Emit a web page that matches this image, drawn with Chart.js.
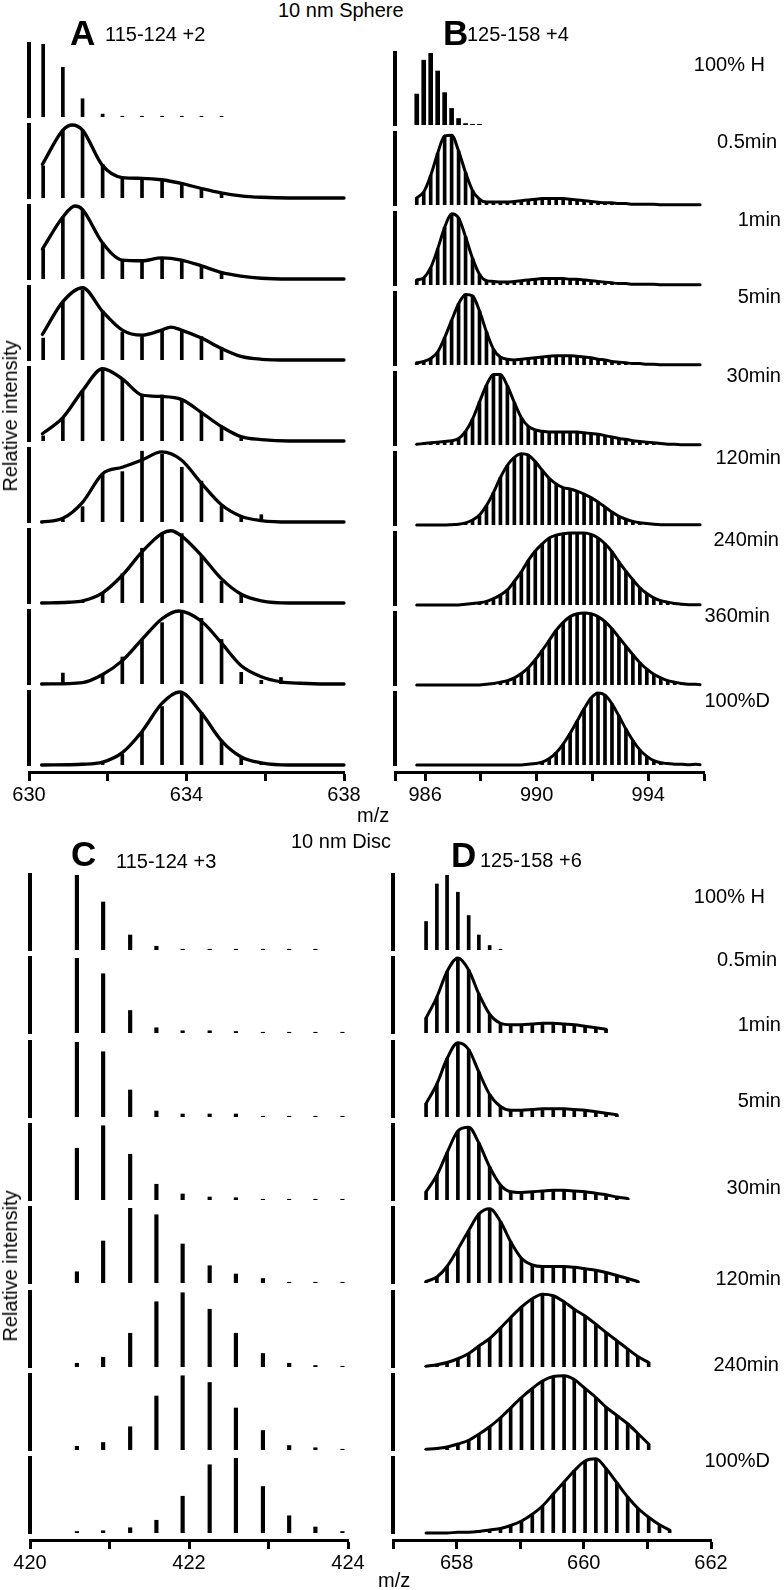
<!DOCTYPE html>
<html>
<head>
<meta charset="utf-8">
<script src="https://cdn.jsdelivr.net/npm/chart.js@4.4.1/dist/chart.umd.min.js"></script>
<style>
  body { margin: 0; width: 784px; height: 1590px; background: #fff; position: relative; overflow: hidden;
         font-family: "Liberation Sans", Arial, Helvetica, sans-serif; color: #000; }
  canvas { position: absolute; }
  .t { position: absolute; white-space: nowrap; line-height: 1; }
  .rot { position: absolute; white-space: nowrap; line-height: 1; transform: translate(-50%, -50%) rotate(-90deg); }
</style>
</head>
<body>
<script>
// ---- data: panel A (115-124 +2, 10 nm sphere) ----
const aMz = [630.36, 630.86, 631.36, 631.87, 632.37, 632.87, 633.38, 633.88, 634.38, 634.89, 635.39, 635.9, 636.4];
const aSticks = [
  [100, 68, 25, 4, 1, 1, 1, 1, 1, 1, 0, 0, 0],
  [44, 93, 93, 46, 26, 26, 25, 19, 12, 6, 0, 0, 0],
  [41, 85, 95, 50, 26, 24, 29, 26, 18, 9, 0, 0, 0],
  [30, 80, 96, 67, 38, 32, 41, 41, 32, 17, 0, 0, 0],
  [7, 31, 69, 97, 85, 63, 63, 57, 39, 20, 4, 0, 0],
  [0, 5, 21, 66, 69, 97, 93, 75, 56, 22, 7, 10, 0],
  [0, 0, 3, 14, 40, 75, 95, 95, 65, 30, 11, 0, 0],
  [0, 15, 0, 12, 37, 61, 84, 100, 90, 61, 16, 5, 9],
  [0, 0, 0, 3, 15, 46, 80, 100, 72, 34, 11, 2, 0]
];
const aFits = [
  null,
  [[630.34, 46], [630.86, 93], [631.1, 100], [631.36, 93], [631.86, 45], [632.37, 28], [632.87, 27], [633.37, 25], [633.87, 20], [634.38, 13], [634.88, 7], [635.38, 3], [635.9, 1], [636.6, 0], [638, 0]],
  [[630.34, 41], [630.86, 85], [631.17, 100], [631.36, 95], [631.86, 50], [632.37, 26], [632.87, 25], [633.37, 29], [633.87, 26], [634.38, 18], [634.88, 9], [635.38, 4], [635.9, 1], [636.6, 0], [638, 0]],
  [[630.34, 35], [630.86, 80], [631.36, 99], [631.86, 67], [632.37, 41], [632.87, 34], [633.37, 41], [633.6, 45], [633.87, 41], [634.38, 30], [634.88, 16], [635.38, 5], [635.9, 1], [636.6, 0], [638, 0]],
  [[630.34, 10], [630.86, 32], [631.36, 69], [631.87, 99], [632.37, 85], [632.87, 63], [633.37, 61], [633.87, 57], [634.38, 39], [634.88, 20], [635.38, 6], [635.9, 2], [636.6, 0], [638, 0]],
  [[630.32, 0], [630.86, 5], [631.36, 27], [631.87, 66], [632.37, 75], [632.87, 85], [633.37, 96], [633.87, 85], [634.38, 53], [634.88, 24], [635.38, 8], [635.9, 2], [636.6, 0], [638, 0]],
  [[630.32, 0], [631.0, 1], [631.36, 3], [631.87, 14], [632.37, 38], [632.87, 70], [633.37, 95], [633.6, 99], [633.87, 92], [634.38, 65], [634.89, 33], [635.39, 12], [635.9, 3], [636.6, 0], [638, 0]],
  [[630.32, 0], [631.36, 2], [631.87, 13], [632.37, 32], [632.87, 61], [633.37, 89], [633.8, 100], [634.38, 86], [634.89, 56], [635.39, 25], [635.9, 10], [636.4, 3], [636.9, 1], [637.5, 0], [638, 0]],
  [[630.32, 0], [631.36, 1], [631.87, 4], [632.37, 17], [632.87, 46], [633.37, 84], [633.82, 100], [634.38, 71], [634.89, 33], [635.39, 11], [635.9, 3], [636.6, 0], [638, 0]]
];

// ---- data: panel B (125-158 +4, 10 nm sphere) ----
const bMz = [985.70, 985.95, 986.20, 986.45, 986.70, 986.95, 987.20, 987.45, 987.70, 987.95,
             988.20, 988.45, 988.70, 988.95, 989.20, 989.45, 989.70, 989.95, 990.20, 990.45,
             990.70, 990.95, 991.20, 991.45, 991.70, 991.95, 992.20, 992.45, 992.70, 992.95,
             993.20, 993.45, 993.70, 993.95, 994.20, 994.45, 994.70, 994.95, 995.20, 995.45, 995.70];
const bEnd = 995.86;
const bRows = [
  [43, 90, 100, 75, 45, 23, 9, 2, 1, 1, 0, 0, 0, 0, 0, 0, 0, 0, 0, 0, 0, 0, 0, 0, 0, 0, 0, 0, 0, 0, 0, 0, 0, 0, 0, 0, 0, 0, 0, 0, 0],
  [10, 18, 41, 72, 96, 97, 75, 45, 20, 8, 4, 4, 4, 4, 5, 6, 7, 8, 9, 9, 9, 9, 8, 7, 6, 5, 4, 3, 3, 2, 2, 1, 1, 1, 1, 0.5, 0.5, 0.5, 0.5, 0.5, 0.5],
  [7, 10, 24, 50, 80, 99, 93, 67, 37, 15, 6, 5, 4, 4, 5, 6, 7, 8, 9, 9, 9, 9, 8, 8, 7, 6, 5, 4, 3, 2, 2, 1, 1, 1, 1, 0.5, 0.5, 0.5, 0.5, 0.5, 0.5],
  [3, 5, 9, 18, 38, 62, 85, 98, 96, 75, 46, 22, 11, 8, 7, 8, 9, 10, 11, 12, 13, 13, 13, 12, 11, 10, 8, 7, 5, 4, 3, 2, 2, 1, 1, 0.5, 0.5, 0.5, 0.5, 0.5, 0.5],
  [1, 2, 3, 4, 5, 6, 9, 19, 36, 60, 83, 98, 98, 82, 59, 38, 26, 21, 19, 18, 18, 18, 18, 18, 17, 16, 15, 13, 11, 9, 8, 6, 5, 4, 3, 2, 1, 1, 0.5, 0.5, 0.5],
  [0, 0, 0, 0, 0, 0.5, 1, 3, 7, 14, 27, 45, 66, 83, 94, 99, 97, 88, 76, 65, 57, 52, 50, 47, 43, 38, 32, 25, 18, 12, 8, 5, 3, 2, 1, 0.5, 0.5, 0.5, 0.5, 0.5, 0.5],
  [0, 0, 0, 0, 0, 0, 0, 1, 2, 3, 5, 9, 14, 21, 33, 46, 62, 75, 85, 93, 97, 99, 100, 100, 100, 98, 93, 85, 74, 60, 47, 35, 24, 16, 10, 6, 4, 2, 1, 0.5, 0.5],
  [0, 0, 0, 0, 0, 0, 0, 0, 0, 0, 1, 2, 4, 6, 10, 16, 24, 35, 48, 62, 76, 87, 95, 99, 100, 99, 95, 88, 78, 66, 54, 42, 31, 22, 15, 10, 6, 4, 2, 1, 1],
  [0, 0, 0, 0, 0, 0, 0, 0, 0, 0, 0, 0, 0, 0, 0, 0, 1, 2, 4, 9, 17, 29, 44, 61, 78, 93, 100, 97, 85, 68, 50, 34, 21, 12, 6, 3, 2, 1, 1, 0.5, 1]
];

// ---- data: panel C (115-124 +3, 10 nm disc) ----
const cMz = [420.59, 420.92, 421.26, 421.59, 421.92, 422.26, 422.59, 422.93, 423.26, 423.59, 423.93];
const cRows = [
  [100, 64, 20, 5, 1, 1, 1, 1, 1, 1, 0],
  [100, 79, 30, 7, 3, 3, 2, 1, 1, 1, 1],
  [100, 87, 36, 8, 4, 4, 4, 1, 1, 1, 1],
  [69, 99, 61, 21, 8, 4, 3, 1, 1, 1, 1],
  [15, 56, 100, 91, 52, 23, 12, 6, 1, 1, 1],
  [5, 13, 45, 87, 99, 77, 45, 18, 5, 2, 1],
  [5, 10, 31, 72, 99, 90, 56, 26, 6, 3, 1],
  [2, 3, 7, 17, 49, 91, 100, 62, 23, 8, 2]
];

// ---- data: panel D (125-158 +6, 10 nm disc) ----
const dMz = [657.52, 657.69, 657.85, 658.02, 658.19, 658.35, 658.52, 658.69, 658.85, 659.02, 659.19, 659.35,
             659.52, 659.69, 659.85, 660.02, 660.19, 660.35, 660.52, 660.69, 660.85, 661.02, 661.19, 661.35];
const dRows = [
  [38, 88, 100, 77, 46, 20, 6, 1],
  [20, 48, 82, 100, 84, 52, 25, 13, 11, 11, 12, 13, 13, 12, 11, 9, 7, 5],
  [18, 44, 78, 99, 90, 60, 30, 14, 9, 9, 10, 11, 11, 11, 10, 9, 7, 5, 3],
  [11, 33, 63, 92, 97, 76, 44, 20, 11, 10, 11, 12, 13, 13, 12, 11, 9, 7, 4, 2],
  [2, 8, 22, 45, 70, 92, 99, 82, 55, 33, 24, 22, 22, 22, 21, 19, 17, 14, 10, 6, 2],
  [1, 3, 6, 11, 18, 28, 38, 52, 66, 80, 91, 97, 95, 87, 77, 68, 57, 46, 35, 24, 14, 6],
  [1, 2, 4, 8, 13, 21, 31, 43, 56, 70, 82, 92, 98, 99, 94, 82, 70, 57, 46, 35, 22, 8],
  [0, 0, 0, 1, 1, 2, 4, 6, 10, 16, 25, 36, 52, 68, 83, 96, 99, 86, 67, 48, 33, 21, 11, 4]
];

// row labels and axis ticks
const sphereLabels = ['100% H', '0.5min', '1min', '5min', '30min', '120min', '240min', '360min', '100%D'];
const discLabels = ['100% H', '0.5min', '1min', '5min', '30min', '120min', '240min', '100%D'];
const aTicks = [630, 632, 634, 636, 638];
const bTicks = [984.92, 986, 988, 990, 992, 994, 996];
const cTicks = [420, 421, 422, 423, 424];
const dTicks = [657, 658, 659, 660, 661, 662];
const aTickLabels = [630, 634, 638];
const bTickLabels = [986, 990, 994];
const cTickLabels = [420, 422, 424];
const dTickLabels = [658, 660, 662];

// ---- layout (pixels) ----
const FONT = '"Liberation Sans", Arial, Helvetica, sans-serif';
const PAD_L = 24, PAD_R = 24, PAD_T = 4, PAD_B = 3;

const panels = {
  A: { xMin: 630, xMax: 638, left: 29, right: 344, base0: 117, pitch: 81, rowH: 73, axisY: 772, tickVals: aTicks, ticks: aTickLabels, barW: 3, lineW: 3.3 },
  B: { xMin: 984.92, xMax: 996, left: 395, right: 704, base0: 125, pitch: 80, rowH: 72, axisY: 772, tickVals: bTicks, ticks: bTickLabels, barW: 3, firstBarW: 4, lineW: 3 },
  C: { xMin: 420, xMax: 424, left: 30, right: 348, base0: 950, pitch: 83.3, rowH: 75, axisY: 1540, tickVals: cTicks, ticks: cTickLabels, barW: 3.5, lineW: 3 },
  D: { xMin: 657, xMax: 662, left: 393, right: 711, base0: 950, pitch: 83.3, rowH: 75, axisY: 1540, tickVals: dTicks, ticks: dTickLabels, barW: 3, lineW: 3 }
};

function makeCanvas(x, y, w, h) {
  const cv = document.createElement('canvas');
  cv.width = w; cv.height = h;
  cv.style.left = x + 'px'; cv.style.top = y + 'px';
  document.body.appendChild(cv);
  return cv;
}

function rowChart(p, idx, mz, vals, fit) {
  const base = Math.round(p.base0 + idx * p.pitch);
  const top = base - p.rowH;
  const w = p.right - p.left + PAD_L + PAD_R;
  const cv = makeCanvas(p.left - PAD_L, top - PAD_T, w, p.rowH + PAD_T + PAD_B);
  const sticks = mz.map((x, i) => ({ x, y: vals[i] || 0 })).filter(d => d.y > 0);
  const datasets = [{
    type: 'bar', data: sticks, backgroundColor: '#000', borderWidth: 0,
    barThickness: (idx === 0 && p.firstBarW) ? p.firstBarW : p.barW, order: 2
  }];
  if (fit) {
    datasets.push({
      type: 'line', data: fit, borderColor: '#000', borderWidth: p.lineW, pointRadius: 0,
      cubicInterpolationMode: 'monotone', borderJoinStyle: 'round', borderCapStyle: 'round', clip: false, order: 1
    });
  }
  new Chart(cv, {
    type: 'bar',
    data: { datasets },
    options: {
      responsive: false, animation: false, events: [],
      layout: { padding: { left: PAD_L, right: PAD_R, top: PAD_T, bottom: PAD_B } },
      plugins: { legend: { display: false }, tooltip: { enabled: false } },
      scales: {
        x: { type: 'linear', min: p.xMin, max: p.xMax, offset: false, display: false },
        y: {
          min: 0, max: 100,
          ticks: { display: false }, grid: { display: false },
          border: { display: true, color: '#000', width: 4 },
          afterFit: s => { s.width = 0; }
        }
      }
    }
  });
}

function axisChart(p) {
  const w = p.right - p.left + PAD_L + PAD_R;
  const cv = makeCanvas(p.left - PAD_L, p.axisY - 4, w, 44);
  new Chart(cv, {
    type: 'scatter',
    data: { datasets: [] },
    options: {
      responsive: false, animation: false, events: [],
      layout: { padding: { left: PAD_L, right: PAD_R, top: 2, bottom: 0 } },
      plugins: { legend: { display: false }, tooltip: { enabled: false } },
      scales: {
        x: {
          type: 'linear', min: p.xMin, max: p.xMax,
          afterFit: s => { s.height = 40; },
          afterBuildTicks: s => { s.ticks = p.tickVals.map(v => ({ value: v })); },
          border: { display: true, color: '#000', width: 3 },
          grid: { display: true, drawOnChartArea: false, drawTicks: true, tickLength: 9, tickWidth: 3, tickColor: '#000', color: '#000' },
          ticks: {
            autoSkip: false, maxRotation: 0, padding: 2, color: '#000',
            font: { family: FONT, size: 20 },
            callback: v => p.ticks.some(l => Math.abs(l - v) < 1e-6) ? String(v) : ''
          }
        },
        y: { display: false }
      }
    }
  });
}

function addText(str, left, baseline, size, bold) {
  const d = document.createElement('div');
  d.className = 't';
  d.textContent = str;
  d.style.left = left + 'px';
  d.style.top = (baseline - 0.8465 * size) + 'px';
  d.style.fontSize = size + 'px';
  if (bold) d.style.fontWeight = 'bold';
  document.body.appendChild(d);
}

function addTextRight(str, right, baseline, size) {
  const d = document.createElement('div');
  d.className = 't';
  d.textContent = str;
  d.style.right = (784 - right) + 'px';
  d.style.top = (baseline - 0.8465 * size) + 'px';
  d.style.fontSize = size + 'px';
  document.body.appendChild(d);
}

function addRotated(str, cx, cy, size) {
  const d = document.createElement('div');
  d.className = 'rot';
  d.textContent = str;
  d.style.left = cx + 'px';
  d.style.top = cy + 'px';
  d.style.fontSize = size + 'px';
  document.body.appendChild(d);
}

// ---- draw panels ----
aSticks.forEach((v, i) => rowChart(panels.A, i, aMz, v, aFits[i]));
bRows.forEach((v, i) => rowChart(panels.B, i, bMz, v, i === 0 ? null : bMz.map((x, k) => [x, v[k]]).concat([[bEnd, 0.5]])));
cRows.forEach((v, i) => rowChart(panels.C, i, cMz, v, null));
dRows.forEach((v, i) => rowChart(panels.D, i, dMz, v, i === 0 ? null : v.map((y, k) => [dMz[k], y])));
Object.values(panels).forEach(axisChart);

// ---- text ----
addText('10 nm Sphere', 278, 17, 20);
addText('A', 70, 45, 35, true);
addText('115-124 +2', 105, 41, 20);
addText('B', 443, 45, 35, true);
addText('125-158 +4', 467, 41, 20);
addText('m/z', 357, 822, 20);
addText('10 nm Disc', 291, 848, 20);
addText('C', 71, 866, 35, true);
addText('115-124 +3', 116, 868, 20);
addText('D', 451, 867, 35, true);
addText('125-158 +6', 480, 867, 20);
addText('m/z', 378, 1587, 20);
addRotated('Relative intensity', 10, 416, 20);
addRotated('Relative intensity', 10, 1266, 20);

// right edge x, baseline y
const sphereLabelPos = [[765, 71], [777, 148], [781, 226], [781, 303], [781, 382], [781, 464], [779, 546], [770, 622], [770, 707]];
const discLabelPos = [[765, 903], [777, 966], [781, 1031], [781, 1107], [781, 1194], [781, 1285], [779, 1371], [770, 1467]];
sphereLabels.forEach((s, i) => addTextRight(s, sphereLabelPos[i][0], sphereLabelPos[i][1], 20));
discLabels.forEach((s, i) => addTextRight(s, discLabelPos[i][0], discLabelPos[i][1], 20));
</script>
</body>
</html>
